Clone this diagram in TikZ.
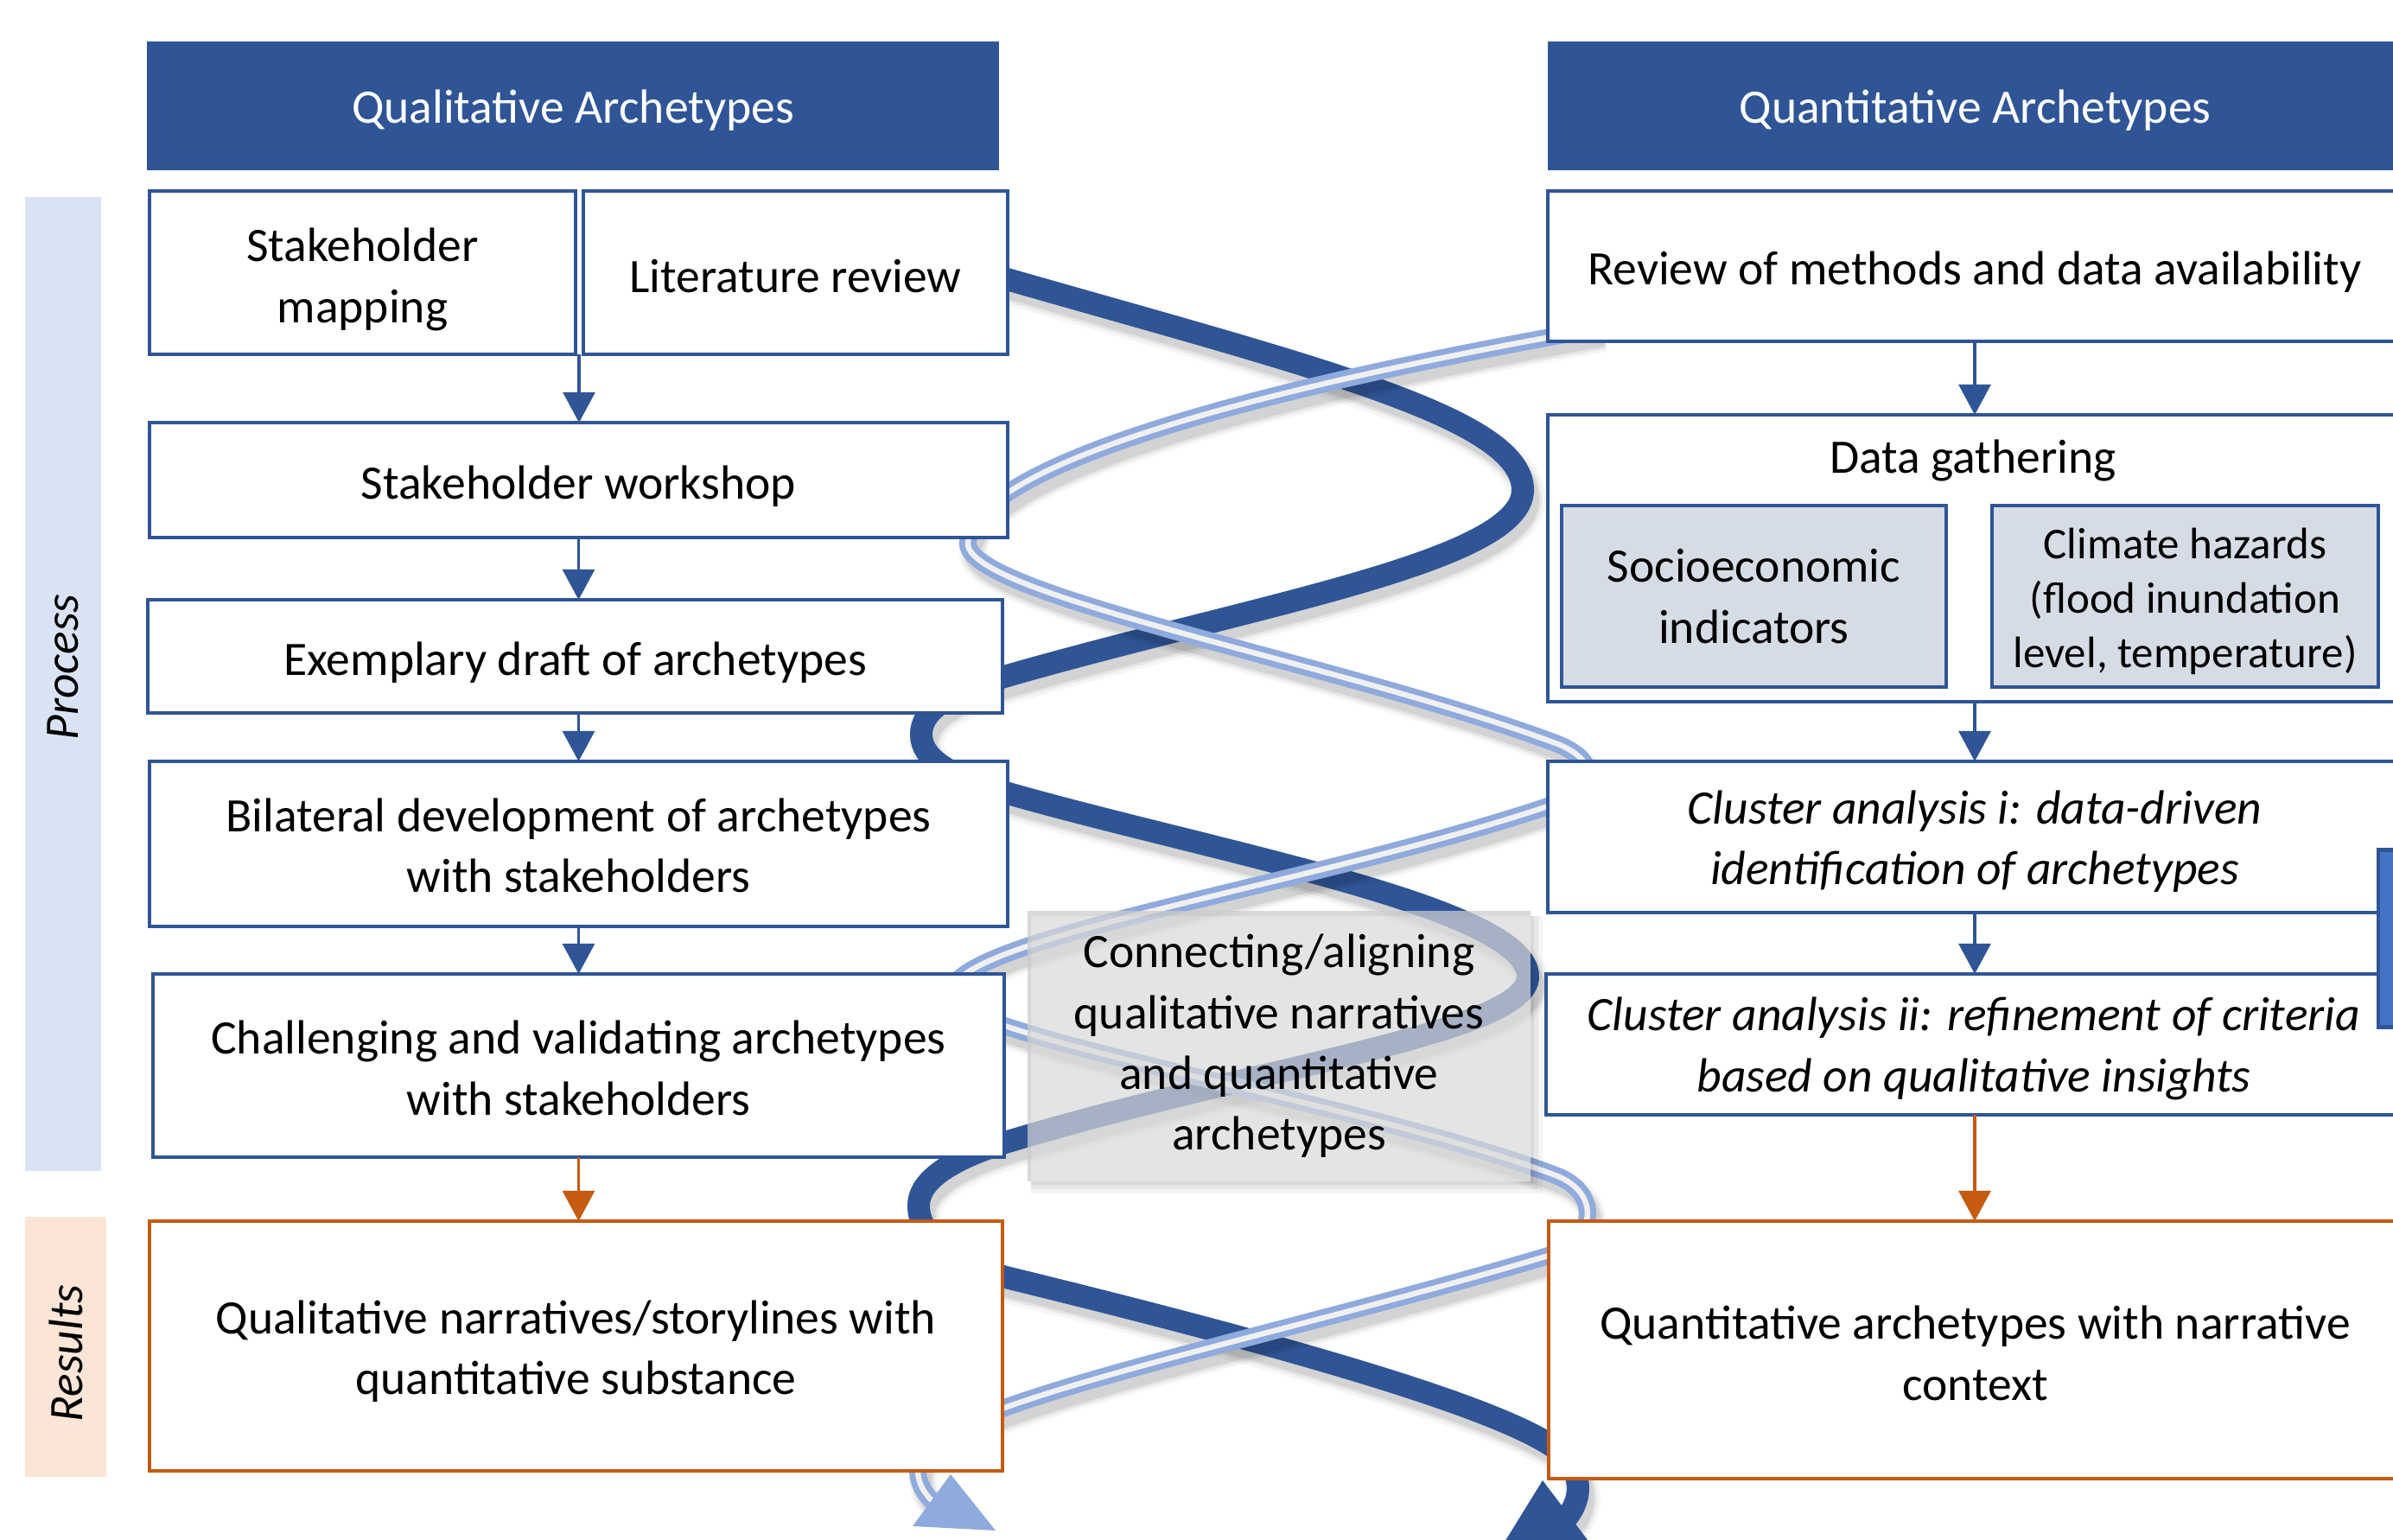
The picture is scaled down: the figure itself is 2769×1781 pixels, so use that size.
\documentclass[tikz,border=0pt]{standalone}
\usepackage{fontspec}
\setmainfont{Carlito}
\usetikzlibrary{arrows.meta}
\definecolor{dkblue}{HTML}{2F5597}
\definecolor{acblue}{HTML}{4472C4}
\definecolor{ltblue}{HTML}{8FAADC}
\definecolor{orgc}{HTML}{C55A11}
\definecolor{procfill}{HTML}{DAE3F3}
\definecolor{resfill}{HTML}{FBE5D6}
\definecolor{subfill}{HTML}{D6DCE5}
\definecolor{cgray}{HTML}{D9D9D9}
% frame node (named #1) and its text node (named #1t), text shifted down by #7 px
\newcommand{\mkbox}[8]{%
  \node[#6, minimum width={(#4-#2)*0.01cm}, minimum height={(#5-#3)*0.01cm}] (#1) at ({(#2+#4)/2},{(#3+#5)/2}) {};
  \node[#6, draw=none, fill=none, minimum width=0pt, minimum height=0pt] (#1t) at ({(#2+#4)/2},{(#3+#5)/2+#7}) {#8};}
\def\darkpath{(1120,310) .. controls (1500,420) and (1762,480) .. (1762,567)
 .. controls (1762,650) and (1450,700) .. (1162,783)
 .. controls (1090,804) and (1066,825) .. (1066,850)
 .. controls (1066,878) and (1100,898) .. (1163,917)
 .. controls (1400,985) and (1768,1050) .. (1768,1130)
 .. controls (1768,1195) and (1450,1235) .. (1163,1322)
 .. controls (1090,1345) and (1063,1370) .. (1063,1395)
 .. controls (1063,1430) and (1100,1460) .. (1164,1478)
 .. controls (1500,1560) and (1780,1640) .. (1815,1690)
 .. controls (1835,1720) and (1825,1745) .. (1805,1765)}
\def\lightpath{(1850,380) .. controls (1450,450) and (1120,540) .. (1120,630)
 .. controls (1125,690) and (1560,770) .. (1800,860)
 .. controls (1850,879) and (1850,912) .. (1800,930)
 .. controls (1520,1025) and (1100,1085) .. (1100,1150)
 .. controls (1100,1200) and (1560,1270) .. (1800,1360)
 .. controls (1850,1379) and (1850,1430) .. (1795,1452)
 .. controls (1500,1540) and (1200,1600) .. (1090,1660)
 .. controls (1058,1680) and (1052,1712) .. (1080,1738)}
\begin{document}
\begin{tikzpicture}[x=0.01cm, y=-0.01cm,
  txt/.style={font=\fontsize{15.8}{20}\selectfont},
  box/.style={draw=dkblue, line width=1.4pt, fill=white, align=center, inner sep=0pt, outer sep=0pt, txt},
  obox/.style={box, draw=orgc},
  sbox/.style={box, fill=subfill},
  hdr/.style={fill=dkblue, draw=dkblue, text=white, align=center, inner sep=0pt, outer sep=0pt, txt},
  side/.style={inner sep=0pt, outer sep=0pt, draw=none},
  sidetxt/.style={rotate=90, font=\fontsize{15.8}{20}\selectfont\itshape},
  arr/.style={draw=dkblue, line width=1pt, -{Triangle[width=10.5pt,length=10pt]}},
  oarr/.style={arr, draw=orgc},
  shad/.style={black, shift={(6,11)}}
]
\useasboundingbox (0,0) rectangle (2769,1781);
\clip (0,0) rectangle (2769,1781);
\fill[white] (0,0) rectangle (2769,1781);

% side bars
\node[side, fill=procfill, minimum width=0.88cm, minimum height=11.27cm] (procbar) at (73,791.5) {};
\node[side, fill=resfill, minimum width=0.94cm, minimum height=3.01cm] (resbar) at (76,1558.5) {};
\node[sidetxt] (proctxt) at (73,772) {Process};
\node[sidetxt] (restxt) at (76,1566) {Results};

% headers
\mkbox{hql}{171}{49}{1155}{196}{hdr}{5}{Qualitative Archetypes}
\mkbox{hqn}{1792}{49}{2779}{196}{hdr}{5}{Quantitative Archetypes}

% helix: dark ribbon with shadow
\foreach \w/\o in {40/0.04, 32/0.06, 26/0.08} {
  \draw[shad, line width=\w*0.2845pt, opacity=\o] \darkpath;
}
\draw[dkblue, line width=7.4pt] \darkpath;
\fill[dkblue] (1785,1713) -- (1862,1815) -- (1722,1815) -- cycle;

% helix: light double line with shadow
\foreach \w/\o in {32/0.04, 26/0.06, 20/0.08} {
  \draw[shad, line width=\w*0.2845pt, opacity=\o] \lightpath;
}
\draw[ltblue, line width=5.7pt] \lightpath;
\draw[white!88!gray, line width=1.8pt] \lightpath;
\fill[ltblue] (1100,1706) -- (1152,1771) -- (1056,1766) -- cycle;

% left column
\mkbox{map}{173}{221}{666}{410}{box}{8}{Stakeholder\\mapping}
\mkbox{lit}{675}{221}{1166}{410}{box}{4}{Literature review}
\mkbox{ws}{173}{489}{1166}{622}{box}{7}{Stakeholder workshop}
\mkbox{draft}{171}{694}{1160}{825}{box}{7}{Exemplary draft of archetypes}
\mkbox{bil}{173}{881}{1166}{1072}{box}{2}{Bilateral development of archetypes\\with stakeholders}
\mkbox{chal}{177}{1127}{1162}{1339}{box}{3}{Challenging and validating archetypes\\with stakeholders}
\mkbox{narr}{173}{1413}{1160}{1702}{obox}{6}{Qualitative narratives/storylines with\\quantitative substance}

% right column
\mkbox{rev}{1791}{221}{2779}{395}{box}{7}{Review of methods and data availability}
\mkbox{dg}{1791}{480}{2779}{812}{box}{0}{}
\node[txt] (dgt) at (2283,533) {Data gathering};
\mkbox{soc}{1807}{585}{2252}{795}{sbox}{0}{Socioeconomic\\indicators}
\mkbox{clim}{2305}{585}{2752}{795}{sbox, font=\fontsize{14.5}{18}\selectfont}{6}{Climate hazards\\(flood inundation\\level, temperature)}
\mkbox{cl1}{1791}{881}{2779}{1056}{box, font=\fontsize{15.8}{20}\selectfont\itshape}{5}{Cluster analysis i: data-driven\\identification of archetypes}
\mkbox{cl2}{1789}{1127}{2779}{1290}{box, font=\fontsize{15.8}{20}\selectfont\itshape}{5}{Cluster analysis ii: refinement of criteria\\based on qualitative insights}
\mkbox{quant}{1792}{1413}{2779}{1711}{obox}{4}{Quantitative archetypes with narrative\\context}
\node[fill=acblue, draw=dkblue, line width=1.4pt, inner sep=0pt, outer sep=0pt, minimum width=0.48cm, minimum height=2.04cm] (rbar) at (2776,1086) {};

% arrows
\coordinate (mj) at (670,410);
\draw[arr] (mj) -- (mj |- ws.north);
\draw[arr] (ws.south) -- (ws.south |- draft.north);
\draw[arr] (ws.south |- draft.south) -- (ws.south |- bil.north);
\draw[arr] (bil.south) -- (bil.south |- chal.north);
\draw[oarr] (bil.south |- chal.south) -- (bil.south |- narr.north);
\draw[arr] (rev.south) -- (dg.north);
\draw[arr] (dg.south) -- (cl1.north);
\draw[arr] (cl1.south) -- (cl1.south |- cl2.north);
\draw[oarr] (cl1.south |- cl2.south) -- (cl1.south |- quant.north);

% central grey box with soft shadow
\foreach \k/\o in {4/0.06, 9/0.05, 14/0.04} {
  \fill[black, opacity=\o, even odd rule] (1193,1060) rectangle (1771+\k,1367+\k) (1189,1054) rectangle (1771,1367);
}
\node[draw=none, fill=cgray, fill opacity=0.7, text opacity=1, align=center, inner sep=0pt, outer sep=0pt, txt, minimum width=5.82cm, minimum height=3.13cm] (conn) at (1480,1210.5) {Connecting/aligning\\qualitative narratives\\and quantitative\\archetypes};
\end{tikzpicture}
\end{document}
